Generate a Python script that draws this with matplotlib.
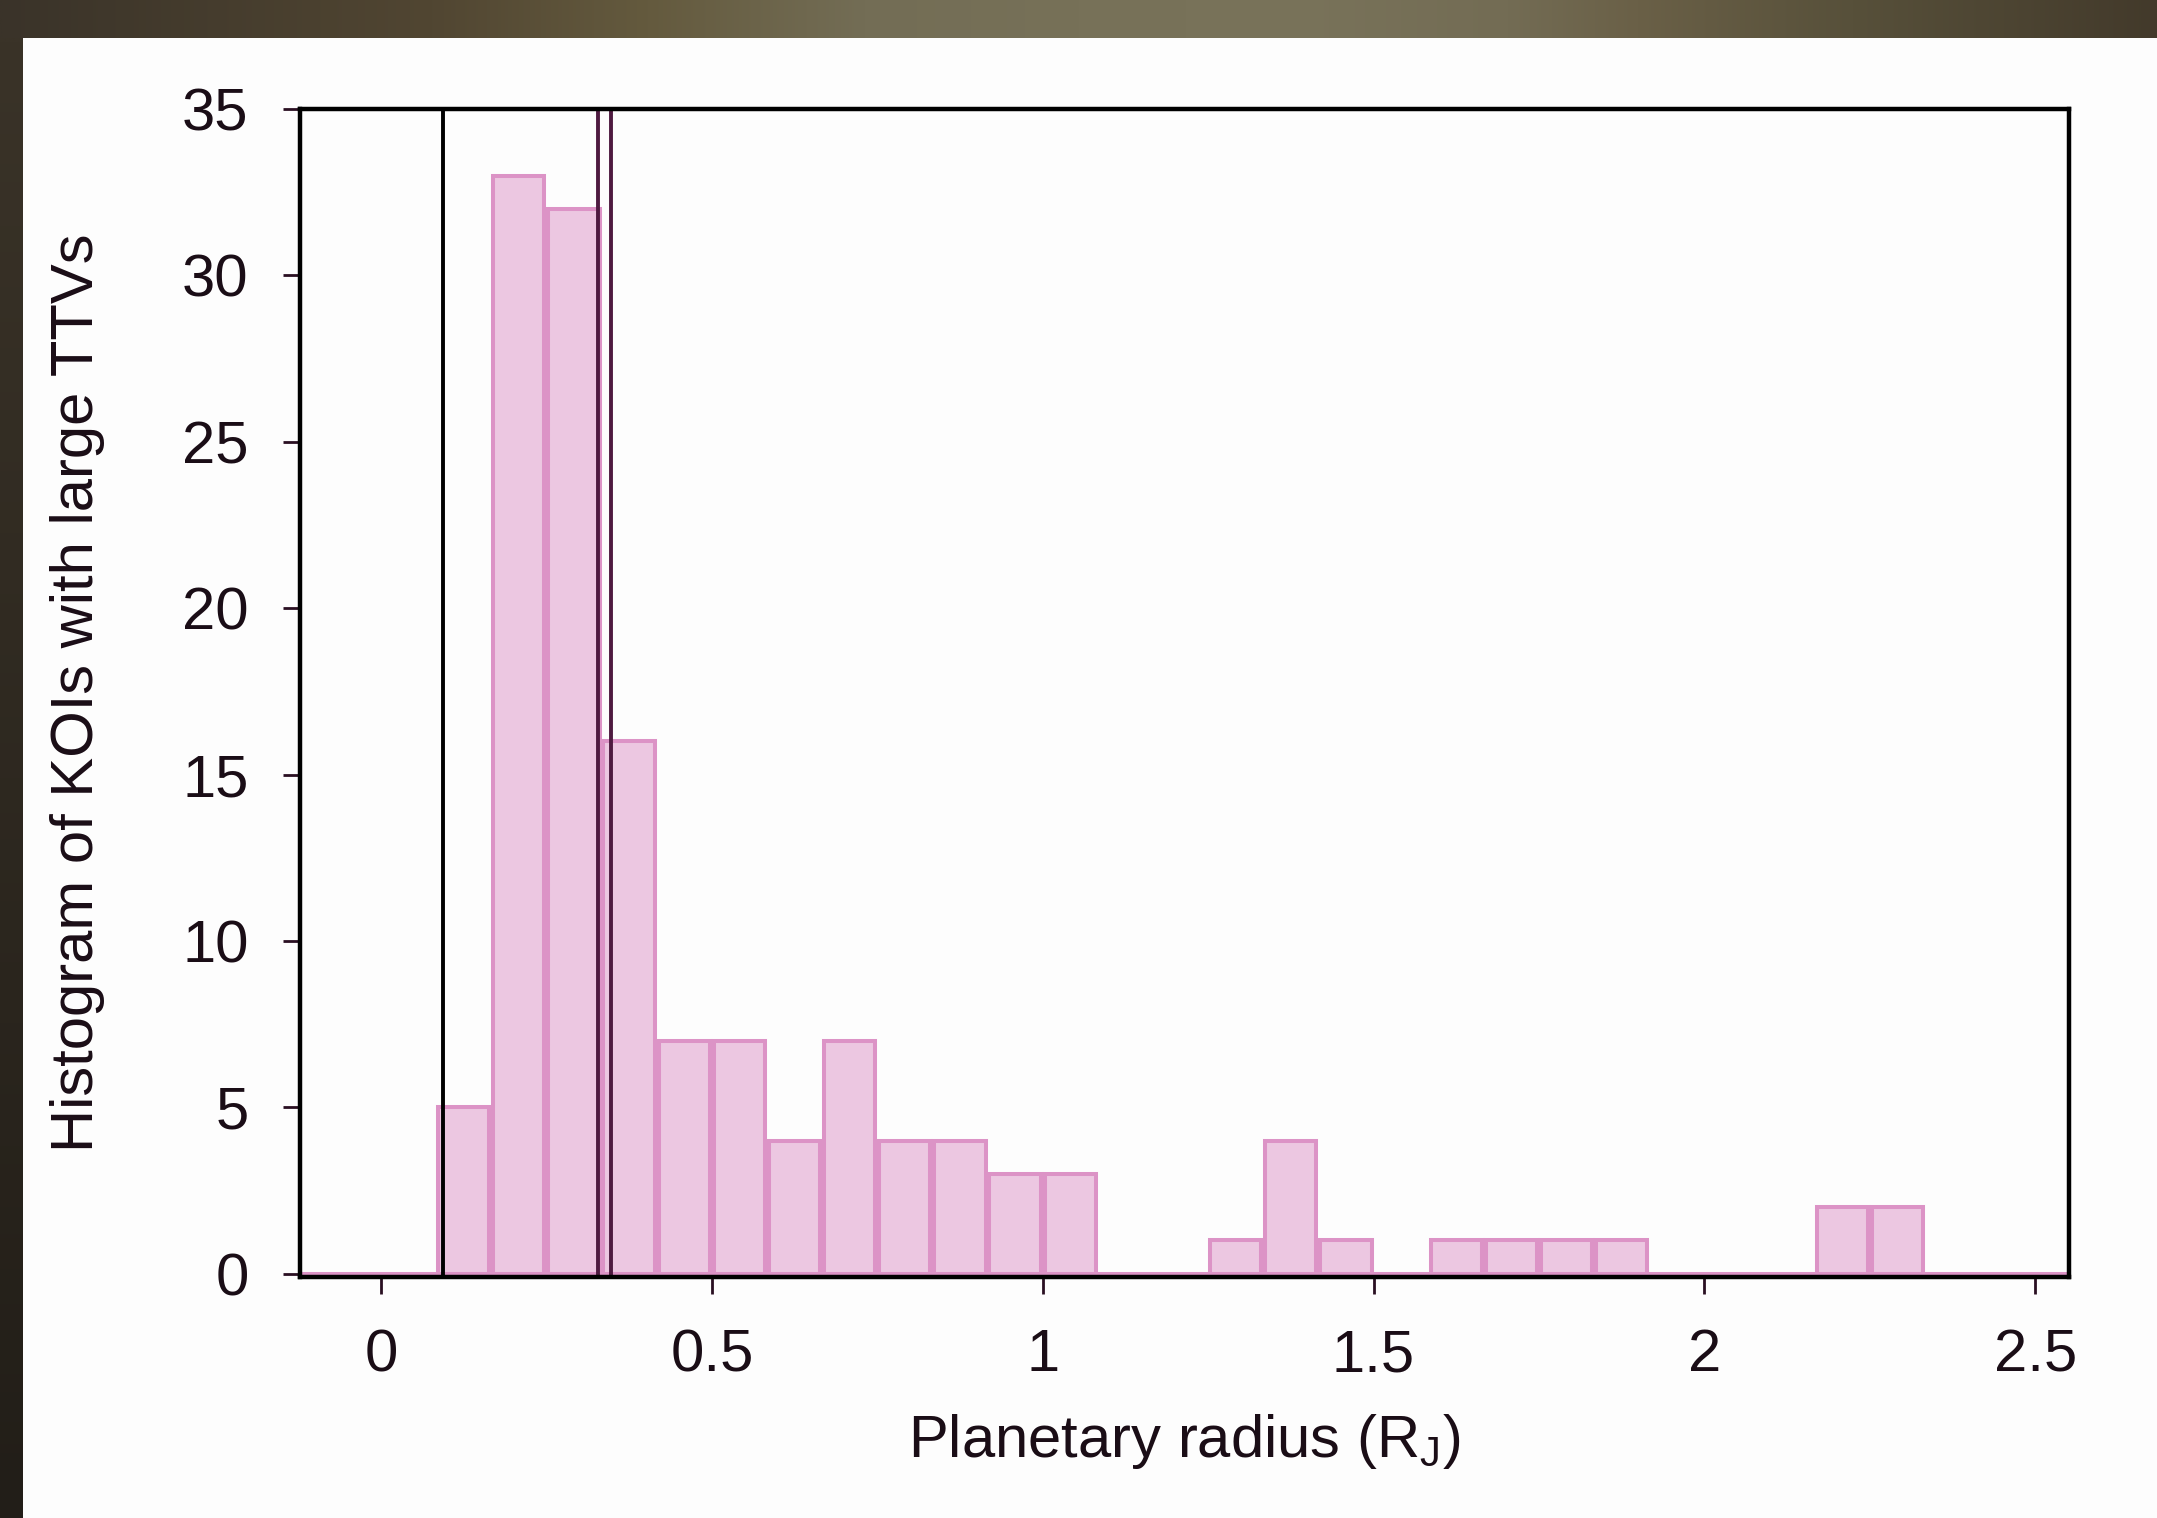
import numpy as np
import matplotlib
matplotlib.use("Agg")
import matplotlib.pyplot as plt
from matplotlib.patches import Rectangle
from matplotlib.colors import to_rgb

# ---------------- data ----------------
bin_width = 1.0 / 12.0
bin_first_left = -2.0 / 12.0
counts = [0, 0, 0, 5, 33, 32, 16, 7, 7, 4, 7, 4, 4, 3, 3, 0, 0,
          1, 4, 1, 0, 1, 1, 1, 1, 0, 0, 0, 2, 2, 0, 0, 0]
vline_black = [0.0937]
vlines_maroon = [0.3286, 0.3472]
xticks = [0, 0.5, 1, 1.5, 2, 2.5]
xticklabels = ["0", "0.5", "1", "1.5", "2", "2.5"]
yticks = [0, 5, 10, 15, 20, 25, 30, 35]
yticklabels = ["0", "5", "10", "15", "20", "25", "30", "35"]
xlabel = "Planetary radius (R$\\mathregular{_J}$)"
ylabel = "Histogram of KOIs with large TTVs"

# ---------------- style ----------------
plt.rcParams['font.family'] = ['Liberation Sans', 'DejaVu Sans']
W, H = 2157, 1518
DPI = 100
fig = plt.figure(figsize=(W / DPI, H / DPI), dpi=DPI)
fig.patch.set_facecolor('#2a251f')

# background decoration (dark frame with gradient top band, white panel)
bg = fig.add_axes([0, 0, 1, 1], zorder=-10)
bg.set_xlim(0, W)
bg.set_ylim(H, 0)
bg.axis('off')
stops = [0.0, 0.2, 0.3, 0.4, 0.5, 0.6, 0.7, 0.76, 0.86, 1.0]
cols = ['#3a3329', '#514632', '#645a3e', '#736d55', '#777158',
        '#79735a', '#736c54', '#6a6047', '#57503a', '#433a2b']
xs = np.linspace(0, 1, 400)
rgb = np.array([to_rgb(c) for c in cols])
band = np.stack([np.interp(xs, stops, rgb[:, i]) for i in range(3)], axis=-1)[None, :, :]
bg.imshow(band, extent=(0, W, 38, 0), aspect='auto', interpolation='bilinear')
ys = np.linspace(0, 1, 200)
lcols = np.array([to_rgb('#3a3328'), to_rgb('#221e18')])
strip = np.stack([np.interp(ys, [0, 1], lcols[:, i]) for i in range(3)], axis=-1)[:, None, :]
bg.imshow(strip, extent=(0, 23, H, 38), aspect='auto', interpolation='bilinear')
bg.add_patch(Rectangle((23, 38), W - 23, H - 38, facecolor='#fdfdfd', edgecolor='none'))

# ---------------- main axes ----------------
ax = fig.add_axes([300 / W, 1 - 1277 / H, (2069 - 300) / W, (1277 - 109) / H])
ax.set_facecolor('#fdfdfd')

counts_arr = np.array(counts)
lefts = bin_first_left + bin_width * np.arange(len(counts))
centers = lefts + bin_width / 2
widths = np.where(counts_arr > 0, bin_width * 0.93, bin_width)
ax.bar(centers, counts_arr, width=widths, align='center',
       color='#ecc7e1', edgecolor='#dc93c6', linewidth=2.9, zorder=2)

for v in vline_black:
    ax.axvline(v, color='#000000', linewidth=2.8, zorder=3)
for v in vlines_maroon:
    ax.axvline(v, color='#4e1a40', linewidth=2.8, zorder=3)

ax.set_xlim(-0.1224, 2.551)
ax.set_ylim(-0.1, 35)
ax.set_xticks(xticks)
ax.set_xticklabels(xticklabels)
ax.set_yticks(yticks)
ax.set_yticklabels(yticklabels)

text_color = '#1a0d16'
ax.tick_params(axis='both', which='major', direction='out', length=12, width=2.0,
               color='#2a0f22', labelsize=43, labelcolor=text_color, pad=25,
               top=False, right=False)
for s in ax.spines.values():
    s.set_linewidth(3.2)
    s.set_color('#000000')
    s.set_zorder(4)

ax.set_xlabel(xlabel, fontsize=43, color=text_color)
ax.set_ylabel(ylabel, fontsize=43, color=text_color)
ax.xaxis.set_label_coords(0.5, (1277 - 1412) / (1277 - 109))
ax.yaxis.set_label_coords((105 - 300) / (2069 - 300), 0.5)

fig.savefig('out.png', dpi=DPI)
